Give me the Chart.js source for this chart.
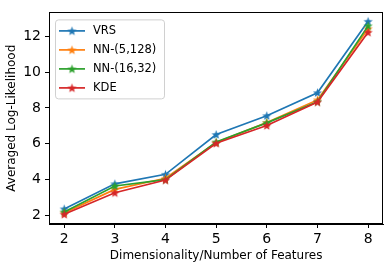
<!DOCTYPE html>
<html>
<head>
<meta charset="utf-8">
<script src="https://cdn.jsdelivr.net/npm/chart.js@4/dist/chart.umd.min.js"></script>
<style>
  html, body { margin: 0; padding: 0; background: #fff; }
  #wrap { width: 390px; height: 269px; }
</style>
</head>
<body>
<div id="wrap"><canvas id="chart" width="390" height="269"></canvas></div>
<script>
// values
const dims = [2, 3, 4, 5, 6, 7, 8];
const seriesNames = ['VRS', 'NN-(5,128)', 'NN-(16,32)', 'KDE'];
const vrs    = [2.37, 3.77, 4.30, 6.52, 7.57, 8.85, 12.83];
const nn5128 = [2.15, 3.46, 4.08, 6.07, 7.19, 8.45, 12.42];
const nn1632 = [2.20, 3.65, 4.00, 6.10, 7.17, 8.35, 12.58];
const kde    = [2.07, 3.27, 3.98, 6.03, 7.02, 8.33, 12.22];
const xTicks = [2, 3, 4, 5, 6, 7, 8];
const yTicks = [2, 4, 6, 8, 10, 12];

const colors = ['#1f77b4', '#ff7f0e', '#2ca02c', '#d62728'];
const FONT = "'DejaVu Sans', sans-serif";

// filled five point star like matplotlib's '*' marker
function starImage(color) {
  const size = 11;
  const c = document.createElement('canvas');
  c.width = size; c.height = size;
  const g = c.getContext('2d');
  const cx = size / 2, cy = size / 2 + 0.4, ro = 4.8, ri = 2.0;
  g.beginPath();
  for (let i = 0; i < 10; i++) {
    const r = i % 2 === 0 ? ro : ri;
    const a = -Math.PI / 2 + i * Math.PI / 5;
    const px = cx + r * Math.cos(a), py = cy + r * Math.sin(a);
    if (i === 0) g.moveTo(px, py); else g.lineTo(px, py);
  }
  g.closePath();
  g.fillStyle = color;
  g.fill();
  return c;
}

const stars = colors.map(starImage);

function makeSet(i, values) {
  return {
    label: seriesNames[i],
    data: dims.map((d, k) => ({ x: d, y: values[k] })),
    borderColor: colors[i],
    backgroundColor: colors[i],
    borderWidth: 1.7,
    pointStyle: stars[i],
    pointRadius: 5,
    order: 4 - i,
    tension: 0
  };
}

const datasets = [vrs, nn5128, nn1632, kde].map((v, i) => makeSet(i, v));

// frame round the plot area
const framePlugin = {
  id: 'frame',
  afterDraw(chart) {
    const a = chart.chartArea;
    const ctx = chart.ctx;
    ctx.save();
    ctx.strokeStyle = '#000';
    ctx.lineWidth = 1;
    ctx.strokeRect(Math.round(a.left) + 0.5, Math.round(a.top) + 0.5,
      Math.round(a.right - a.left) - 1, Math.round(a.bottom - a.top) - 1);
    ctx.restore();
  }
};

// legend box in the upper left corner, matplotlib style
const legendPlugin = {
  id: 'boxLegend',
  afterDatasetsDraw(chart) {
    const a = chart.chartArea;
    const ctx = chart.ctx;
    const x0 = a.left + 6, y0 = a.top + 7, w = 109, h = 79;
    ctx.save();
    ctx.beginPath();
    ctx.roundRect(x0 + 0.5, y0 + 0.5, w, h, 3);
    ctx.fillStyle = 'rgba(255,255,255,0.8)';
    ctx.fill();
    ctx.strokeStyle = '#d0d0d0';
    ctx.lineWidth = 1;
    ctx.stroke();
    ctx.font = '11.5px ' + FONT;
    ctx.textBaseline = 'middle';
    ctx.fillStyle = '#000';
    seriesNames.forEach((name, i) => {
      const y = y0 + 11.5 + i * 19;
      ctx.strokeStyle = colors[i];
      ctx.lineWidth = 1.7;
      ctx.beginPath();
      ctx.moveTo(x0 + 4, y);
      ctx.lineTo(x0 + 30, y);
      ctx.stroke();
      ctx.drawImage(stars[i], x0 + 17 - 5.5, y - 5.5);
      ctx.fillText(name, x0 + 38, y + 0.5);
    });
    ctx.restore();
  }
};

new Chart(document.getElementById('chart'), {
  type: 'line',
  data: { datasets: datasets },
  options: {
    responsive: false,
    animation: false,
    layout: { padding: { left: 0, right: 6, top: 6, bottom: 0 } },
    plugins: {
      legend: { display: false },
      tooltip: { enabled: false }
    },
    scales: {
      x: {
        type: 'linear',
        min: 1.7,
        max: 8.3,
        afterBuildTicks: s => { s.ticks = xTicks.map(v => ({ value: v })); },
        afterFit: s => { s.height = 45; },
        grid: { drawOnChartArea: false, drawTicks: true, tickLength: 4, color: '#000' },
        border: { display: true, color: '#000' },
        ticks: { color: '#000', padding: 3, font: { family: FONT, size: 14 } },
        title: {
          display: true,
          text: 'Dimensionality/Number of Features',
          color: '#000',
          font: { family: FONT, size: 12 },
          padding: { top: 0, bottom: 6 }
        }
      },
      y: {
        type: 'linear',
        min: 1.53,
        max: 13.33,
        afterBuildTicks: s => { s.ticks = yTicks.map(v => ({ value: v })); },
        afterFit: s => { s.width = 49; },
        grid: { drawOnChartArea: false, drawTicks: true, tickLength: 4, color: '#000' },
        border: { display: true, color: '#000' },
        ticks: { color: '#000', padding: 4, font: { family: FONT, size: 14 } },
        title: {
          display: true,
          text: 'Averaged Log-Likelihood',
          color: '#000',
          font: { family: FONT, size: 12 },
          padding: { top: 5, bottom: 0 }
        }
      }
    }
  },
  plugins: [framePlugin, legendPlugin]
});
</script>
</body>
</html>
